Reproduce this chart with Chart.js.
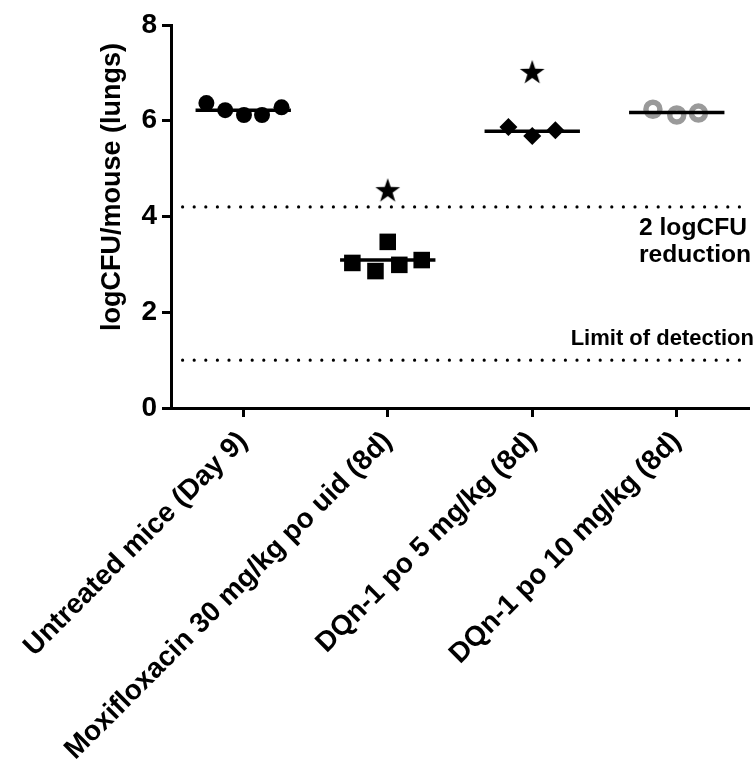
<!DOCTYPE html>
<html>
<head>
<meta charset="utf-8">
<script src="https://cdn.jsdelivr.net/npm/chart.js@4"></script>
<style>
  html, body { margin: 0; padding: 0; background: #fff; overflow: hidden; }
  #wrap { width: 756px; height: 768px; position: relative; overflow: hidden; }
  #wrap canvas { display: block; }
</style>
</head>
<body>
<div id="wrap"><canvas id="cfu-chart"></canvas></div>
<script>
const categories = [
  'Untreated mice (Day 9)',
  'Moxifloxacin 30 mg/kg po uid (8d)',
  'DQn-1 po 5 mg/kg (8d)',
  'DQn-1 po 10 mg/kg (8d)',
];
const untreatedCfu = [6.37, 6.22, 6.12, 6.12, 6.28];
const moxifloxacinCfu = [3.03, 2.86, 3.47, 2.99, 3.09];
const dqn5Cfu = [5.87, 5.68, 5.80];
const dqn10Cfu = [6.24, 6.12, 6.16];
const groupMeans = [6.22, 3.09, 5.78, 6.17];
const significance = [null, 4.55, 7.02, null];
const yTickValues = [0, 2, 4, 6, 8];
const reductionLevel = 4.2;
const detectionLimit = 1.0;

// horizontal scatter of the dots inside each column, in category units
const spread = [
  [-0.255, -0.125, 0.005, 0.13, 0.265],
  [-0.245, -0.085, 0, 0.08, 0.235],
  [-0.165, 0, 0.16],
  [-0.165, 0, 0.15],
];

(() => {
  const canvas = document.getElementById('cfu-chart');
  if (!canvas || !window.Chart) {
    return;
  }

  const FONT = "'Liberation Sans', Arial, Helvetica, sans-serif";
  const groups = [untreatedCfu, moxifloxacinCfu, dqn5Cfu, dqn10Cfu];
  const toPoints = (i) => groups[i].map((v, j) => ({ x: i + spread[i][j], y: v }));

  // filled five-point star, Chart.js only has an outline one
  const star = document.createElement('canvas');
  star.width = 28;
  star.height = 28;
  const sctx = star.getContext('2d');
  sctx.beginPath();
  for (let k = 0; k < 10; k++) {
    const r = k % 2 ? 5.1 : 13;
    const a = -Math.PI / 2 + (k * Math.PI) / 5;
    sctx.lineTo(14 + r * Math.cos(a), 15 + r * Math.sin(a));
  }
  sctx.closePath();
  sctx.fillStyle = '#000';
  sctx.fill();

  const meanLines = groupMeans.map((m, i) => ({
    data: [{ x: i - 0.33, y: m }, { x: i + 0.33, y: m }],
    showLine: true,
    borderColor: '#000',
    borderWidth: 3.5,
    pointRadius: 0,
  }));

  const dotted = (level) => ({
    data: [{ x: -0.5, y: level }, { x: 3.5, y: level }],
    showLine: true,
    borderColor: '#000',
    borderWidth: 3.2,
    borderDash: [0, 11.6],
    borderCapStyle: 'round',
    pointRadius: 0,
  });

  const pointSet = (i, style) => Object.assign({ data: toPoints(i), borderWidth: 0 }, style);

  // the source figure's lettering is a little wider than Arial
  const wideText = (ctx, text, x, y, align, stretch) => {
    const w = ctx.measureText(text).width * stretch;
    const left = align === 'right' ? x - w : x;
    ctx.save();
    ctx.translate(left, y);
    ctx.scale(stretch, 1);
    ctx.textAlign = 'left';
    ctx.fillText(text, 0, 0);
    ctx.restore();
  };

  const annotations = {
    id: 'annotations',
    afterDraw(chart) {
      const { ctx, scales: { y } } = chart;
      ctx.save();
      ctx.fillStyle = '#000';
      ctx.textBaseline = 'middle';
      ctx.font = `bold 23px ${FONT}`;
      const ry = y.getPixelForValue(reductionLevel);
      wideText(ctx, '2 logCFU', 639, ry + 22, 'left', 1.07);
      wideText(ctx, 'reduction', 639, ry + 49, 'left', 1.07);
      ctx.font = `bold 22px ${FONT}`;
      wideText(ctx, 'Limit of detection', 754, y.getPixelForValue(detectionLimit) - 21, 'right', 1);

      ctx.translate(113, 187);
      ctx.rotate(-Math.PI / 2);
      ctx.textAlign = 'center';
      ctx.font = `bold 27px ${FONT}`;
      ctx.fillText('logCFU/mouse (lungs)', 0, 0);
      ctx.restore();
    },
  };

  const axisGrid = {
    drawOnChartArea: false,
    tickLength: 9,
    tickWidth: 3,
    tickColor: '#000',
  };

  new Chart(canvas, {
    type: 'scatter',
    data: {
      datasets: [
        ...meanLines,
        {
          data: significance.map((v, i) => (v === null ? null : { x: i, y: v })).filter(Boolean),
          pointStyle: star,
        },
        pointSet(0, { pointStyle: 'circle', pointRadius: 8, backgroundColor: '#000' }),
        pointSet(1, { pointStyle: 'rect', pointRadius: 11.7, backgroundColor: '#000' }),
        pointSet(2, { pointStyle: 'rectRot', pointRadius: 9, backgroundColor: '#000' }),
        pointSet(3, {
          pointStyle: 'circle',
          pointRadius: 7,
          backgroundColor: '#fff',
          borderColor: '#9a9a9a',
          borderWidth: 5.5,
        }),
        dotted(reductionLevel),
        dotted(detectionLimit),
      ],
    },
    options: {
      responsive: true,
      maintainAspectRatio: false,
      animation: false,
      layout: {
        autoPadding: false,
        padding: { top: 25, right: 7, bottom: 0, left: 0 },
      },
      scales: {
        x: {
          type: 'linear',
          min: -0.5,
          max: 3.5,
          afterBuildTicks: (scale) => {
            scale.ticks = categories.map((_, i) => ({ value: i }));
          },
          afterFit: (scale) => {
            scale.height = 360;
            scale.paddingLeft = 0;
            scale.paddingRight = 0;
          },
          ticks: {
            autoSkip: false,
            maxRotation: 45,
            minRotation: 45,
            padding: 8,
            color: '#000',
            font: { family: FONT, size: 28, weight: 'bold' },
            callback: (v) => categories[v],
          },
          grid: axisGrid,
          border: { color: '#000', width: 3 },
        },
        y: {
          min: 0,
          max: 8,
          afterBuildTicks: (scale) => {
            scale.ticks = yTickValues.map((v) => ({ value: v }));
          },
          afterFit: (scale) => {
            scale.width = 171;
          },
          ticks: {
            padding: 5,
            color: '#000',
            font: { family: FONT, size: 28, weight: 'bold' },
          },
          grid: axisGrid,
          border: { color: '#000', width: 3 },
        },
      },
      plugins: {
        legend: { display: false },
        tooltip: { enabled: false },
      },
    },
    plugins: [annotations],
  });
})();
</script>
</body>
</html>
